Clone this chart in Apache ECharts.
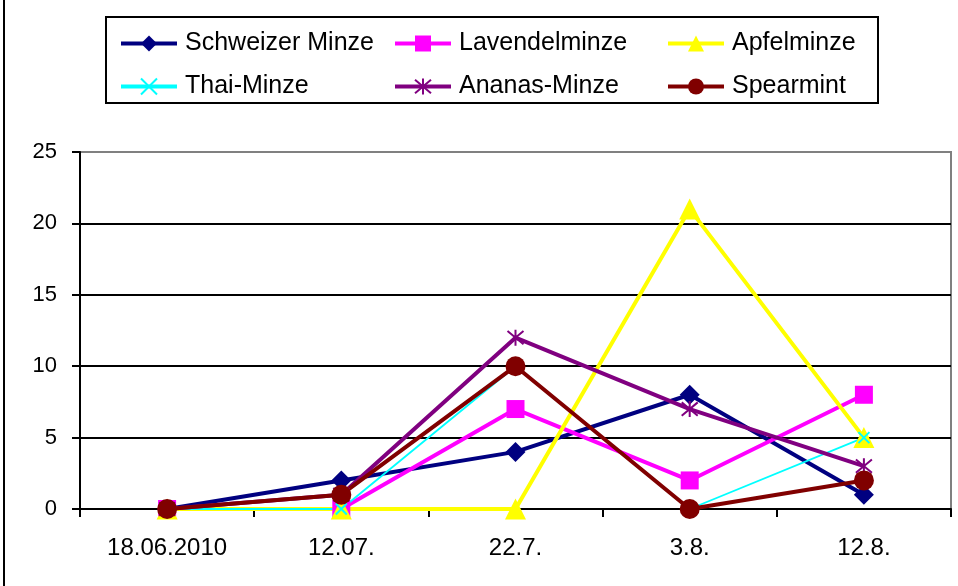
<!DOCTYPE html>
<html>
<head>
<meta charset="utf-8">
<script src="https://cdn.jsdelivr.net/npm/echarts@6/dist/echarts.min.js"></script>
<style>
  html, body { margin: 0; padding: 0; background: #fff; }
  #chart { width: 958px; height: 586px; }
</style>
</head>
<body>
<div id="chart"></div>
<script>
// Sampling dates and counts per mint variety
const dates = ['18.06.2010', '12.07.', '22.7.', '3.8.', '12.8.'];
const yTicks = [0, 5, 10, 15, 20, 25];

const schweizerMinze = [0, 2, 4, 8, 1];
const lavendelminze  = [0, 0, 7, 2, 8];
const apfelminze     = [0, 0, 0, 21, 5];
const thaiMinze      = [0, 0, 10, 0, 5];
const ananasMinze    = [0, 1, 12, 7, 3];
const spearmint      = [0, 1, 10, 0, 2];

const FONT = 'Liberation Sans, Arial, sans-serif';

// Stroked marker shapes
const crossPath = 'path://M0,0 L10,10 M10,0 L0,10';
const asteriskPath = 'path://M0,0 L10,10 M10,0 L0,10 M5,-1 L5,11';

function lineSeries(name, data, color, symbol, size, width, strokedMarker) {
  return {
    name: name,
    type: 'line',
    data: data,
    symbol: symbol,
    symbolSize: size,
    showAllSymbol: true,
    lineStyle: { color: color, width: width },
    itemStyle: strokedMarker
      ? { color: 'rgba(0,0,0,0)', borderColor: color, borderWidth: 2 }
      : { color: color, borderWidth: 0 },
    emphasis: { disabled: true },
    animation: false
  };
}

const chart = echarts.init(document.getElementById('chart'));

function legendColumn(left, names) {
  return {
    orient: 'vertical',
    left: left,
    top: 26,
    itemWidth: 56,
    itemHeight: 20,
    itemGap: 18,
    data: names,
    lineStyle: { width: 4 },
    textStyle: { fontFamily: FONT, fontSize: 25, lineHeight: 25, color: '#000', padding: [0, 0, 0, 3] },
    selectedMode: false
  };
}

chart.setOption({
  backgroundColor: '#fff',
  animation: false,
  grid: {
    left: 80, right: 7, top: 152, bottom: 77,
    show: true, borderColor: '#808080', borderWidth: 2, backgroundColor: 'transparent'
  },
  legend: [
    legendColumn(114, ['Schweizer Minze', 'Thai-Minze']),
    legendColumn(388, ['Lavendelminze', 'Ananas-Minze']),
    legendColumn(661, ['Apfelminze', 'Spearmint'])
  ],
  graphic: [
    { type: 'rect', shape: { x: 4, y: -5, width: 1000, height: 1000 },
      style: { fill: 'none', stroke: '#000', lineWidth: 2 }, silent: true },
    { type: 'rect', shape: { x: 106, y: 17, width: 772, height: 86 },
      style: { fill: 'none', stroke: '#000', lineWidth: 2 }, silent: true }
  ],
  xAxis: {
    type: 'category',
    data: dates,
    boundaryGap: true,
    axisLine: { lineStyle: { color: '#000', width: 2 } },
    axisTick: { show: true, inside: false, length: 8, lineStyle: { color: '#000', width: 2 } },
    axisLabel: { fontFamily: FONT, fontSize: 24, color: '#000', margin: 27 },
    splitLine: { show: false }
  },
  yAxis: {
    type: 'value',
    min: yTicks[0],
    max: yTicks[yTicks.length - 1],
    interval: 5,
    axisLine: { show: true, lineStyle: { color: '#000', width: 2 } },
    axisTick: { show: true, inside: false, length: 8, lineStyle: { color: '#000', width: 2 } },
    axisLabel: { fontFamily: FONT, fontSize: 22, color: '#000', margin: 23 },
    splitLine: { show: true, showMaxLine: false, lineStyle: { color: '#000', width: 2 } }
  },
  series: [
    lineSeries('Schweizer Minze', schweizerMinze, '#000080', 'diamond', 20, 4, false),
    lineSeries('Lavendelminze', lavendelminze, '#FF00FF', 'rect', 18, 4, false),
    lineSeries('Apfelminze', apfelminze, '#FFFF00', 'triangle', 21, 4, false),
    lineSeries('Thai-Minze', thaiMinze, '#00FFFF', crossPath, 11, 1.8, true),
    lineSeries('Ananas-Minze', ananasMinze, '#800080', asteriskPath, 16, 4, true),
    lineSeries('Spearmint', spearmint, '#800000', 'circle', 20, 4, false)
  ]
});
</script>
</body>
</html>
